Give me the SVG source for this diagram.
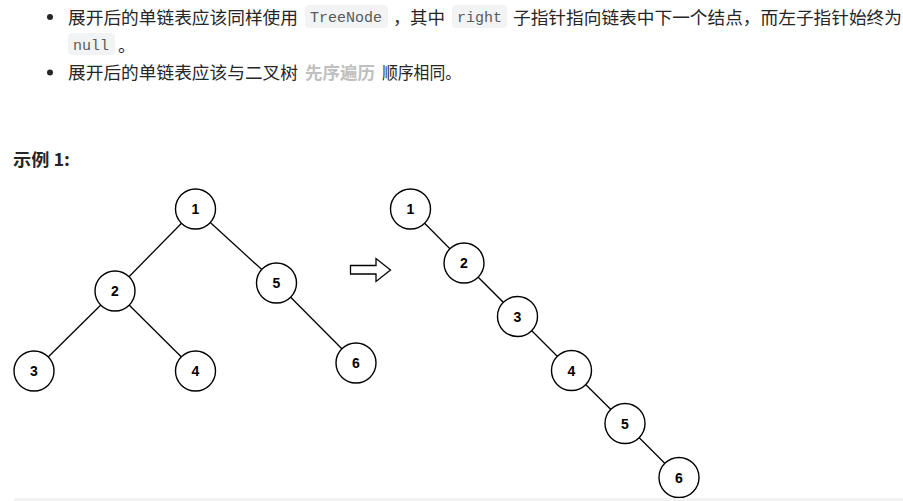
<svg xmlns="http://www.w3.org/2000/svg" width="903" height="501" viewBox="0 0 903 501">
<style>
.t{font-family:"Noto Sans CJK SC","Liberation Sans",sans-serif;font-size:17.6px;fill:#262626}
.code{font-family:"Liberation Mono",monospace;font-size:15px;fill:#5a5a5a}
.cbox{fill:#f2f3f5}
.n circle{fill:#fff;stroke:#000;stroke-width:1.4}
.n text{font-family:"Liberation Sans",Arial,sans-serif;font-weight:bold;font-size:14px;fill:#000;text-anchor:middle}
.e line{stroke:#000;stroke-width:1.3}
</style>
<rect width="903" height="501" fill="#fff"/>
<!-- text -->
<circle cx="50" cy="17" r="3" fill="#262626"/>
<text class="t" x="68" y="24" textLength="230" lengthAdjust="spacingAndGlyphs">展开后的单链表应该同样使用</text>
<rect class="cbox" x="305" y="5" width="83" height="23" rx="4"/>
<text class="code" x="310" y="22">TreeNode</text>
<text class="t" x="393" y="24">，</text>
<text class="t" x="410" y="24" textLength="35" lengthAdjust="spacingAndGlyphs">其中</text>
<rect class="cbox" x="452" y="5" width="55" height="23" rx="4"/>
<text class="code" x="457" y="22">right</text>
<text class="t" x="513" y="24" textLength="389" lengthAdjust="spacingAndGlyphs">子指针指向链表中下一个结点，而左子指针始终为</text>
<rect class="cbox" x="68" y="33" width="47" height="22" rx="4"/>
<text class="code" x="73" y="50">null</text>
<text class="t" x="118" y="52">。</text>
<circle cx="50" cy="72.5" r="3" fill="#262626"/>
<text class="t" x="68" y="79" textLength="230" lengthAdjust="spacingAndGlyphs">展开后的单链表应该与二叉树</text>
<text class="t" x="305" y="79" textLength="70" lengthAdjust="spacingAndGlyphs" style="font-weight:bold;fill:#c0c0c0">先序遍历</text>
<text class="t" x="382" y="79" textLength="79" lengthAdjust="spacingAndGlyphs">顺序相同。</text>
<text class="t" x="13" y="166" style="font-weight:bold;font-size:17px" textLength="57" lengthAdjust="spacingAndGlyphs">示例 1:</text>
<!-- connectors -->
<g id="connectors" class="e">
<line x1="195.5" y1="209" x2="115" y2="291"/>
<line x1="195.5" y1="209" x2="276.5" y2="283"/>
<line x1="115" y1="291" x2="34" y2="371"/>
<line x1="115" y1="291" x2="195.5" y2="371"/>
<line x1="276.5" y1="283" x2="356" y2="363"/>
<line x1="410.5" y1="209" x2="464" y2="263"/>
<line x1="464" y1="263" x2="517.5" y2="316.5"/>
<line x1="517.5" y1="316.5" x2="571.5" y2="370.5"/>
<line x1="571.5" y1="370.5" x2="625" y2="423.5"/>
<line x1="625" y1="423.5" x2="679" y2="477.5"/>
</g>
<!-- arrow -->
<g id="arrow">
<polygon points="350.5,265.5 376,265.5 376,258.5 390.5,270 376,281.5 376,274 350.5,274" fill="#fff" stroke="#000" stroke-width="1.3"/>
</g>
<!-- left tree -->
<g id="L1" class="n"><circle cx="195.5" cy="209" r="20"/><text x="195.5" y="214">1</text></g>
<g id="L2" class="n"><circle cx="115" cy="291" r="20"/><text x="115" y="296">2</text></g>
<g id="L5" class="n"><circle cx="276.5" cy="283" r="20"/><text x="276.5" y="288">5</text></g>
<g id="L3" class="n"><circle cx="34" cy="371" r="20"/><text x="34" y="376">3</text></g>
<g id="L4" class="n"><circle cx="195.5" cy="371" r="20"/><text x="195.5" y="376">4</text></g>
<g id="L6" class="n"><circle cx="356" cy="363" r="20"/><text x="356" y="368">6</text></g>
<!-- right chain -->
<g id="R1" class="n"><circle cx="410.5" cy="209" r="20"/><text x="410.5" y="214">1</text></g>
<g id="R2" class="n"><circle cx="464" cy="263" r="20"/><text x="464" y="268">2</text></g>
<g id="R3" class="n"><circle cx="517.5" cy="316.5" r="20"/><text x="517.5" y="321.5">3</text></g>
<g id="R4" class="n"><circle cx="571.5" cy="370.5" r="20"/><text x="571.5" y="375.5">4</text></g>
<g id="R5" class="n"><circle cx="625" cy="423.5" r="20"/><text x="625" y="428.5">5</text></g>
<g id="R6" class="n"><circle cx="679" cy="477.5" r="20"/><text x="679" y="482.5">6</text></g>
<rect x="14" y="498" width="889" height="3" fill="#f2f2f2"/>
</svg>
